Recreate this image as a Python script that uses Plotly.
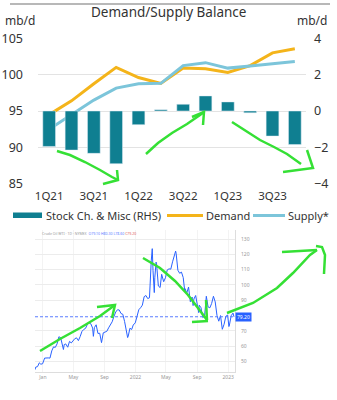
import plotly.graph_objects as go

# ---------------- data: demand / supply balance ----------------
quarters = ["1Q21", "2Q21", "3Q21", "4Q21", "1Q22", "2Q22", "3Q22", "4Q22",
            "1Q23", "2Q23", "3Q23", "4Q23"]
stock_change = [-1.95, -2.15, -2.33, -2.9, -0.75, 0.07, 0.37, 0.83, 0.5, -0.1, -1.38, -1.85]
demand = [94.5, 96.4, 98.75, 101.0, 99.6, 98.8, 100.9, 100.8, 100.3, 101.25, 103.0, 103.55]
supply = [92.5, 94.5, 96.5, 98.15, 98.75, 98.8, 101.25, 101.65, 100.9, 101.2, 101.55, 101.8]
quarter_ticks = ["1Q21", "3Q21", "1Q22", "3Q22", "1Q23", "3Q23"]
series_names = ["Stock Ch. & Misc (RHS)", "Demand", "Supply*"]

# ---------------- data: crude price screenshot ----------------
price_dates = [
    "2020-12-01", "2020-12-04", "2020-12-11", "2020-12-18", "2020-12-24", "2020-12-31",
    "2021-01-08", "2021-01-15", "2021-01-22", "2021-01-29", "2021-02-05", "2021-02-12",
    "2021-02-19", "2021-02-26", "2021-03-05", "2021-03-12", "2021-03-19", "2021-03-23",
    "2021-03-26", "2021-04-01", "2021-04-09", "2021-04-16", "2021-04-23", "2021-04-30",
    "2021-05-07", "2021-05-14", "2021-05-21", "2021-05-28", "2021-06-04", "2021-06-11",
    "2021-06-18", "2021-06-25", "2021-07-02", "2021-07-09", "2021-07-16", "2021-07-19",
    "2021-07-23", "2021-07-30", "2021-08-06", "2021-08-13", "2021-08-20", "2021-08-27",
    "2021-09-03", "2021-09-10", "2021-09-17", "2021-09-24", "2021-10-01", "2021-10-08",
    "2021-10-15", "2021-10-22", "2021-10-29", "2021-11-05", "2021-11-12", "2021-11-19",
    "2021-11-26", "2021-12-01", "2021-12-03", "2021-12-10", "2021-12-17", "2021-12-23",
    "2021-12-31",
    "2022-01-07", "2022-01-14", "2022-01-21", "2022-01-28", "2022-02-04", "2022-02-11",
    "2022-02-18", "2022-02-25", "2022-03-04", "2022-03-08", "2022-03-11", "2022-03-16",
    "2022-03-18", "2022-03-23", "2022-03-25", "2022-04-01", "2022-04-08", "2022-04-14",
    "2022-04-22", "2022-04-29", "2022-05-06", "2022-05-13", "2022-05-20", "2022-05-27",
    "2022-06-03", "2022-06-08", "2022-06-10", "2022-06-17", "2022-06-24", "2022-07-01",
    "2022-07-08", "2022-07-14", "2022-07-15", "2022-07-22", "2022-07-29", "2022-08-05",
    "2022-08-12", "2022-08-16", "2022-08-19", "2022-08-26", "2022-09-02", "2022-09-07",
    "2022-09-09", "2022-09-16", "2022-09-23", "2022-09-30", "2022-10-07", "2022-10-14",
    "2022-10-21", "2022-10-28", "2022-11-04", "2022-11-11", "2022-11-18", "2022-11-25",
    "2022-12-02", "2022-12-09", "2022-12-16", "2022-12-23", "2022-12-30",
    "2023-01-04", "2023-01-06", "2023-01-13", "2023-01-20", "2023-01-24",
]
price_values = [
    44.6, 46.3, 46.6, 49.1, 48.2, 48.5,
    52.2, 52.4, 52.3, 52.2, 56.9, 59.5,
    59.2, 61.5, 66.1, 65.6, 61.4, 57.8,
    61.0, 61.45, 59.3, 63.1, 62.1, 63.6,
    64.9, 65.4, 63.6, 66.3, 69.6, 70.9,
    71.6, 74.05, 75.2, 74.6, 71.8, 66.4,
    72.1, 73.95, 68.3, 68.4, 62.3, 68.7,
    69.3, 69.7, 71.97, 74.0, 75.9, 79.35,
    82.3, 83.8, 83.6, 81.3, 80.8, 76.1,
    68.15, 65.6, 66.3, 71.7, 70.9, 73.8,
    75.2,
    78.9, 83.8, 85.1, 86.8, 92.3, 93.1,
    91.1, 91.6, 115.7, 123.7, 109.3, 95.0,
    104.7, 114.9, 113.9, 99.3, 98.3, 106.95,
    102.1, 104.7, 109.8, 110.5, 110.3, 115.1,
    118.9, 122.1, 120.7, 109.6, 107.6, 108.4,
    104.8, 95.8, 97.6, 94.7, 98.6, 89.0,
    92.1, 86.5, 90.8, 93.1, 86.9, 81.9,
    86.8, 85.1, 78.7, 79.5, 92.6, 85.6,
    85.05, 87.9, 92.6, 88.96, 80.1, 76.3,
    79.98, 71.0, 74.3, 79.56, 80.26,
    72.8, 73.8, 79.9, 81.6, 79.2,
]
price_tick_dates = ["2021-01-01", "2021-05-01", "2021-09-01", "2022-01-01",
                    "2022-05-01", "2022-09-01", "2023-01-01"]
price_tick_text = ["Jan", "May", "Sep", "2022", "May", "Sep", "2023"]
price_axis_ticks = [50, 60, 70, 90, 100, 110, 120, 130]

TEAL = "#0f7f91"
ORANGE = "#f4b41a"
LIGHTBLUE = "#7cc5da"
GREEN = "#35e035"
TV_BLUE = "#2962ff"
TXT = "#333333"
FONT = "Noto Sans"

W, H = 337, 400


def px(x):
    return x / W


def py(y):
    return 1 - y / H


def path(points):
    s = "M {:.4f},{:.4f}".format(px(points[0][0]), py(points[0][1]))
    for x, y in points[1:]:
        s += " L {:.4f},{:.4f}".format(px(x), py(y))
    return s


def note(text, x, y, size, xanchor="center", color=TXT):
    return dict(text=text, x=px(x), y=py(y), xref="paper", yref="paper",
                xanchor=xanchor, yanchor="middle", showarrow=False,
                font=dict(size=size, color=color, family=FONT))


fig = go.Figure()

fig.add_trace(go.Bar(x=quarters, y=stock_change, marker_color=TEAL, yaxis="y2",
                     name=series_names[0]))
fig.add_trace(go.Scatter(x=quarters, y=demand, mode="lines", line=dict(color=ORANGE, width=3),
                         name=series_names[1]))
fig.add_trace(go.Scatter(x=quarters, y=supply, mode="lines", line=dict(color=LIGHTBLUE, width=3),
                         name=series_names[2]))

fig.add_trace(go.Scatter(x=price_dates, y=price_values, mode="lines", xaxis="x2", yaxis="y3",
                         line=dict(color=TV_BLUE, width=1), name="WTI"))

last_price = price_values[-1]

shapes = []
# top border line
shapes.append(dict(type="line", xref="paper", yref="paper", x0=px(10), x1=px(330),
                   y0=py(4), y1=py(4), line=dict(color="#a0a0a0", width=1.5)))
# dashed last-price line
shapes.append(dict(type="line", xref="x2 domain", yref="y3", x0=0, x1=1,
                   y0=last_price, y1=last_price,
                   line=dict(color="#5a7dff", width=1, dash="3px,2px")))

# manual legend swatches
shapes.append(dict(type="rect", xref="paper", yref="paper", x0=px(13), x1=px(42),
                   y0=py(218), y1=py(212.5), fillcolor=TEAL, line=dict(width=0)))
shapes.append(dict(type="line", xref="paper", yref="paper", x0=px(167), x1=px(203),
                   y0=py(215.5), y1=py(215.5), line=dict(color=ORANGE, width=3)))
shapes.append(dict(type="line", xref="paper", yref="paper", x0=px(253), x1=px(285),
                   y0=py(215.5), y1=py(215.5), line=dict(color=LIGHTBLUE, width=3)))

# hand-drawn green arrows (decorations)
arrows = [
    [(57, 151), (70, 155), (85, 162), (100, 170), (112, 177), (118, 180)],
    [(103, 184), (118, 180), (117, 170)],
    [(146, 154), (158, 143), (172, 133), (187, 124), (200, 115), (204, 112)],
    [(192, 117), (204, 112), (203, 125)],
    [(232, 122), (246, 131), (260, 140), (274, 147), (287, 154), (301, 164)],
    [(283, 172), (313, 168), (307, 150)],
    [(40, 351), (60, 339), (80, 328), (100, 316), (115, 305)],
    [(97, 307), (115, 305), (112, 318)],
    [(143, 258), (160, 268), (175, 281), (188, 295), (198, 308), (207, 320)],
    [(192, 322), (208, 321)],
    [(206, 300), (207, 320)],
    [(227, 313), (253, 303), (277, 288), (293, 273), (310, 255), (317, 250)],
    [(282, 252), (317, 250)],
    [(316, 246), (322, 247), (325, 255), (324, 274)],
]
for a in arrows:
    shapes.append(dict(type="path", xref="paper", yref="paper", path=path(a),
                       line=dict(color=GREEN, width=2.5)))

annotations = [
    note("Demand/Supply Balance", 168, 12, 13.5),
    note("mb/d", 20, 20.5, 12),
    note("mb/d", 312, 20.5, 12),
    # legend texts
    note(series_names[0], 44, 215.5, 11, xanchor="left"),
    note(series_names[1], 204, 215.5, 11, xanchor="left"),
    note(series_names[2], 286, 215.5, 11, xanchor="left"),
    # screenshot header
    note("Crude Oil WTI · 1D · NYMEX  <span style='color:#5b7bff'>O79.10 H80.30 L78.60</span> <span style='color:#e06060'>C79.20</span>",
         40, 233, 3.5, xanchor="left", color="#999999"),
    # price tag
    dict(text="{:.2f}".format(last_price), x=1, y=last_price, xref="x2 domain", yref="y3",
         xanchor="left", yanchor="middle", showarrow=False, bgcolor=TV_BLUE, borderpad=1,
         font=dict(size=5, color="white", family=FONT)),
]

fig.update_layout(
    width=W, height=H,
    margin=dict(l=0, r=0, t=0, b=0, autoexpand=False),
    paper_bgcolor="white", plot_bgcolor="white",
    font=dict(family=FONT, color=TXT),
    bargap=0.43,
    showlegend=False,
    xaxis=dict(domain=[px(38), px(306)], anchor="y", type="category",
               tickmode="array", tickvals=quarter_ticks, ticktext=quarter_ticks,
               tickfont=dict(size=11.5, color=TXT), showgrid=False, showline=False,
               ticks="", zeroline=False, ticklabelstandoff=4),
    yaxis=dict(domain=[py(183.7), py(38.3)], anchor="x", range=[85, 105], dtick=5,
               tickfont=dict(size=12.5, color=TXT), gridcolor="#e3e3e3",
               showline=False, zeroline=False, ticks="", ticklabelstandoff=14),
    yaxis2=dict(overlaying="y", side="right", anchor="x", range=[-4, 4], dtick=2,
                tickfont=dict(size=12.5, color=TXT), showgrid=False,
                zeroline=False, showline=False, ticks="", ticklabelstandoff=7),
    xaxis2=dict(domain=[px(35), px(235)], anchor="y3", type="date",
                range=["2020-12-01", "2023-01-28"],
                tickmode="array", tickvals=price_tick_dates, ticktext=price_tick_text,
                tickfont=dict(size=5, color="#999999"), showgrid=True, gridcolor="#f3f3f3",
                showline=True, linecolor="#dddddd", ticks="", zeroline=False),
    yaxis3=dict(domain=[py(372), py(230)], anchor="x2", side="right",
                range=[43.1, 135.9], tickmode="array", tickvals=price_axis_ticks,
                tickfont=dict(size=5, color="#999999"), gridcolor="#ececec",
                showline=True, linecolor="#dddddd", ticks="", zeroline=False,
                ticklabelstandoff=4),
    shapes=shapes,
    annotations=annotations,
)

fig.write_html("out.html")
